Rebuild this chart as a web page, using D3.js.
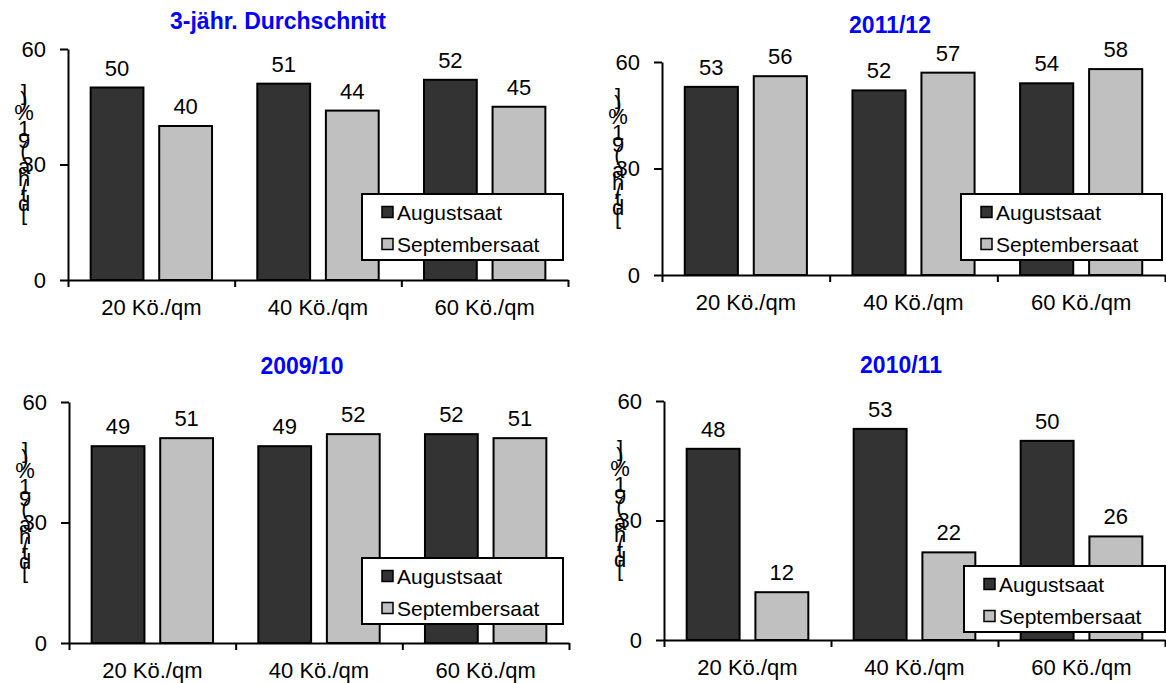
<!DOCTYPE html>
<html>
<head>
<meta charset="utf-8">
<script src="https://cdn.jsdelivr.net/npm/d3@7"></script>
<style>
  body { margin: 0; background: #fff; }
  text { font-family: "Liberation Sans", Arial, sans-serif; fill: #000; }
</style>
</head>
<body>
<div id="chart"></div>
<script>
// values
var categories = ["20 Kö./qm", "40 Kö./qm", "60 Kö./qm"];
var seriesNames = ["Augustsaat", "Septembersaat"];
var titles = ["3-jähr. Durchschnitt", "2011/12", "2009/10", "2010/11"];
var yTicks = [0, 30, 60];
var yLabel = "[dt/ha (91%)]";

var avgAugust = [50, 51, 52];
var avgSeptember = [40, 44, 45];
var y1112August = [53, 52, 54];
var y1112September = [56, 57, 58];
var y0910August = [49, 49, 52];
var y0910September = [51, 52, 51];
var y1011August = [48, 53, 50];
var y1011September = [12, 22, 26];

var colors = ["#333333", "#c0c0c0"];

// where each small chart sits on the page
var layout = [
  {aug: avgAugust, sep: avgSeptember, left: 68, right: 568, top: 49, bottom: 280, titleX: 278, titleY: 29, legX: 362, legY: 194},
  {aug: y1112August, sep: y1112September, left: 662, right: 1165, top: 62, bottom: 275, titleX: 890, titleY: 33, legX: 961, legY: 194},
  {aug: y0910August, sep: y0910September, left: 69, right: 569, top: 402, bottom: 643, titleX: 302, titleY: 374, legX: 362, legY: 558},
  {aug: y1011August, sep: y1011September, left: 664, right: 1165, top: 401, bottom: 640, titleX: 901, titleY: 373, legX: 964, legY: 566}
];

var fontSize = "22px";

var svg = d3.select("#chart")
  .append("svg")
  .attr("width", 1166)
  .attr("height", 683);

layout.forEach(function(p, k) {
  var g = svg.append("g");

  var xScale = d3.scaleBand()
    .domain(categories)
    .range([p.left, p.right]);

  var xInner = d3.scaleBand()
    .domain(seriesNames)
    .range([0, xScale.bandwidth()])
    .paddingInner(0.23)
    .paddingOuter(0.33);

  var yScale = d3.scaleLinear()
    .domain([0, 60])
    .range([p.bottom, p.top]);

  var rows = [];
  categories.forEach(function(c, i) {
    rows.push({cat: c, series: seriesNames[0], value: p.aug[i], color: colors[0]});
    rows.push({cat: c, series: seriesNames[1], value: p.sep[i], color: colors[1]});
  });

  // bars
  g.selectAll(".bar")
    .data(rows)
    .enter()
    .append("rect")
    .attr("class", "bar")
    .attr("x", function(d) { return xScale(d.cat) + xInner(d.series); })
    .attr("y", function(d) { return yScale(d.value); })
    .attr("width", xInner.bandwidth())
    .attr("height", function(d) { return p.bottom - yScale(d.value); })
    .style("fill", function(d) { return d.color; })
    .style("stroke", "#000")
    .style("stroke-width", 2);

  // value labels
  g.selectAll(".val")
    .data(rows)
    .enter()
    .append("text")
    .attr("class", "val")
    .attr("x", function(d) { return xScale(d.cat) + xInner(d.series) + xInner.bandwidth() / 2; })
    .attr("y", function(d) { return yScale(d.value) - 12; })
    .attr("text-anchor", "middle")
    .style("font-size", fontSize)
    .text(function(d) { return d.value; });

  // x axis: ticks sit between the groups
  var xEdges = d3.scaleLinear().domain([0, categories.length]).range([p.left, p.right]);
  g.append("g")
    .attr("transform", "translate(0," + p.bottom + ")")
    .call(d3.axisBottom(xEdges)
      .tickValues(d3.range(categories.length + 1))
      .tickFormat("")
      .tickSize(7)
      .tickSizeOuter(0))
    .call(function(a) {
      a.selectAll("path, line").style("stroke", "#000").style("stroke-width", 2);
    });

  g.selectAll(".cat")
    .data(categories)
    .enter()
    .append("text")
    .attr("class", "cat")
    .attr("x", function(d) { return xScale(d) + xScale.bandwidth() / 2; })
    .attr("y", p.bottom + 35)
    .attr("text-anchor", "middle")
    .style("font-size", fontSize)
    .text(function(d) { return d; });

  // y axis
  g.append("g")
    .attr("transform", "translate(" + p.left + ",0)")
    .call(d3.axisLeft(yScale)
      .tickValues(yTicks)
      .tickSize(8)
      .tickSizeOuter(0)
      .tickPadding(14))
    .call(function(a) {
      a.selectAll("path, line").style("stroke", "#000").style("stroke-width", 2);
      a.selectAll("text").style("font-size", fontSize).style("font-family", "'Liberation Sans', Arial, sans-serif").style("fill", "#000");
    });

  // y label: rotated run with upright glyphs
  var measure = g.append("text")
    .style("font-size", fontSize)
    .style("white-space", "pre")
    .text(yLabel);
  var node = measure.node();
  var total = node.getComputedTextLength();
  var glyphs = [];
  for (var i = 0; i < yLabel.length; i++) {
    var s = node.getStartPositionOfChar(i).x;
    var e = node.getEndPositionOfChar(i).x;
    glyphs.push({ch: yLabel[i], mid: (s + e) / 2});
  }
  measure.remove();

  var labelX = p.left - 44;
  var labelY = (p.top + p.bottom) / 2 - 12;
  g.selectAll(".ylab")
    .data(glyphs)
    .enter()
    .append("text")
    .attr("class", "ylab")
    .attr("x", labelX)
    .attr("y", function(d) { return labelY + total / 2 - d.mid; })
    .attr("text-anchor", "middle")
    .attr("dominant-baseline", "central")
    .style("font-size", fontSize)
    .text(function(d) { return d.ch; });

  // title
  g.append("text")
    .attr("x", p.titleX)
    .attr("y", p.titleY)
    .attr("text-anchor", "middle")
    .style("font-size", "23px")
    .style("font-weight", "bold")
    .style("fill", "#0000ff")
    .text(titles[k]);

  // legend
  var leg = g.append("g")
    .attr("transform", "translate(" + p.legX + "," + p.legY + ")");
  leg.append("rect")
    .attr("width", 201)
    .attr("height", 66)
    .style("fill", "#fff")
    .style("stroke", "#000")
    .style("stroke-width", 2);
  var items = leg.selectAll(".item")
    .data(seriesNames)
    .enter()
    .append("g")
    .attr("class", "item")
    .attr("transform", function(d, i) { return "translate(20," + (18 + i * 32) + ")"; });
  items.append("rect")
    .attr("y", -5.5)
    .attr("width", 11)
    .attr("height", 11)
    .style("fill", function(d, i) { return colors[i]; })
    .style("stroke", "#000")
    .style("stroke-width", 1.5);
  items.append("text")
    .attr("x", 15)
    .attr("dominant-baseline", "central")
    .style("font-size", "21px")
    .text(function(d) { return d; });
});
</script>
</body>
</html>
